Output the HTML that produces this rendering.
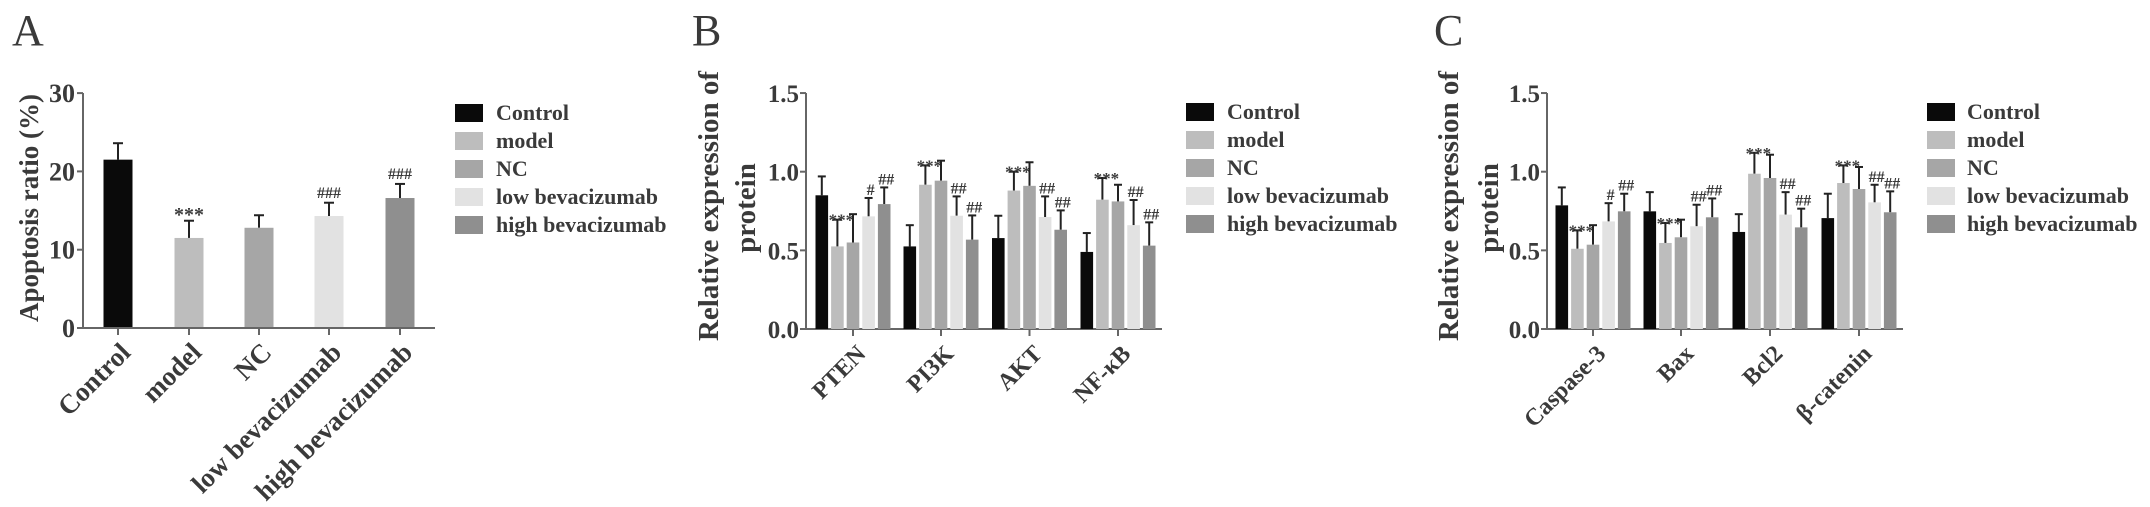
<!DOCTYPE html>
<html><head><meta charset="utf-8"><style>
html,body{margin:0;padding:0;background:#fff;}
svg{display:block;}
text{font-family:"Liberation Serif",serif;fill:#3a3a3a;font-weight:bold;}
</style></head><body>
<svg id="s" width="2150" height="507" viewBox="0 0 2150 507" xmlns="http://www.w3.org/2000/svg"></svg>
<script>
const S=document.getElementById('s');const NS='http://www.w3.org/2000/svg';
function el(t,a,txt){const e=document.createElementNS(NS,t);for(const k in a)e.setAttribute(k,a[k]);if(txt!==undefined)e.textContent=txt;S.appendChild(e);return e;}
const COL=['#0a0a0a','#bdbdbd','#a6a6a6','#e2e2e2','#8f8f8f'];
const LEG=['Control','model','NC','low bevacizumab','high bevacizumab'];
const AX='#666';
function legend(sx,tx,ys){for(let i=0;i<5;i++){el('rect',{x:sx,y:ys[i]-9,width:28,height:18,fill:COL[i]});el('text',{x:tx,y:ys[i]+7,'font-size':22},LEG[i]);}}
// Panel A
(function(){
 const ax=83,y0=328,u=7.83,xe=435;
 const vals=[[21.5,23.6],[11.5,13.7],[12.8,14.4],[14.3,16.0],[16.6,18.4]];
 const cx=[118,189,259,329,400];
 const names=['Control','model','NC','low bevacizumab','high bevacizumab'];
 for(let i=0;i<5;i++){const [v,e]=vals[i];const t=y0-v*u,et=y0-e*u;
  el('line',{x1:cx[i],y1:et,x2:cx[i],y2:t,stroke:'#222','stroke-width':2});
  el('line',{x1:cx[i]-5,y1:et,x2:cx[i]+5,y2:et,stroke:'#222','stroke-width':2});
  el('rect',{x:cx[i]-14.5,y:t,width:29,height:y0-t,fill:COL[i]});
  el('line',{x1:cx[i],y1:y0,x2:cx[i],y2:y0+7,stroke:AX,'stroke-width':2});
  el('text',{x:0,y:0,'font-size':27,'text-anchor':'end',transform:`translate(${cx[i]+14},${y0+26}) rotate(-45)`},names[i]);
 }
 el('text',{x:189,y:221,'font-size':20,'text-anchor':'middle'},'***');
 el('text',{x:329,y:198,'font-size':16,'text-anchor':'middle'},'###');
 el('text',{x:400,y:179,'font-size':16,'text-anchor':'middle'},'###');
 el('line',{x1:ax,y1:93,x2:ax,y2:y0,stroke:AX,'stroke-width':2});
 el('line',{x1:ax,y1:y0,x2:xe,y2:y0,stroke:AX,'stroke-width':2});
 for(let k=0;k<=3;k++){const y=y0-k*10*u;el('line',{x1:ax-6,y1:y,x2:ax,y2:y,stroke:AX,'stroke-width':2});
  el('text',{x:75,y:y+9,'font-size':26,'text-anchor':'end'},String(k*10));}
 el('text',{x:0,y:0,'font-size':27,'text-anchor':'middle',transform:'translate(38,208) rotate(-90)'},'Apoptosis ratio (%)');
 el('text',{x:12,y:45,'font-size':44,style:'font-weight:normal'},'A');
 legend(455,496,[113,141,169,197,225]);
})();
function panel(o){
 const y0=329,u=157.3;
 el('line',{x1:o.ax,y1:93,x2:o.ax,y2:y0,stroke:AX,'stroke-width':2});
 el('line',{x1:o.ax,y1:y0,x2:o.xe,y2:y0,stroke:AX,'stroke-width':2});
 for(let k=0;k<=3;k++){const y=y0-k*0.5*u;el('line',{x1:o.ax-6,y1:y,x2:o.ax,y2:y,stroke:AX,'stroke-width':2});
  el('text',{x:o.ax-7,y:y+9,'font-size':25,'text-anchor':'end'},(k*0.5).toFixed(1));}
 for(let g=0;g<4;g++){const tx=o.ticks[g];
  el('line',{x1:tx,y1:y0,x2:tx,y2:y0+7,stroke:AX,'stroke-width':2});
  el('text',{x:0,y:0,'font-size':24,'text-anchor':'end',transform:`translate(${tx+14},${y0+26}) rotate(-45)`},o.names[g]);
  for(let i=0;i<5;i++){const [v,e]=o.vals[g][i];const cx=tx+(i-2)*15.6;const t=y0-v*u,et=y0-e*u;
   el('line',{x1:cx,y1:et,x2:cx,y2:t,stroke:'#222','stroke-width':2});
   el('line',{x1:cx-4,y1:et,x2:cx+4,y2:et,stroke:'#222','stroke-width':2});
   el('rect',{x:cx-6.3,y:t,width:12.6,height:y0-t,fill:COL[i]});
   const a=o.ann[g][i];
   if(a){const st=a[0]=='*';el('text',{x:cx+(st?4:2),y:st?et+6:et-3,'font-size':st?17:16,'text-anchor':'middle'},a);}
  }}
 el('text',{x:0,y:0,'font-size':29,'text-anchor':'middle',transform:`translate(${o.t1},206) rotate(-90)`},'Relative expression of');
 el('text',{x:0,y:0,'font-size':29,'text-anchor':'middle',transform:`translate(${o.t2},208) rotate(-90)`},'protein');
 el('text',{x:o.lx,y:45,'font-size':44,style:'font-weight:normal'},o.letter);
 legend(o.sx,o.tx,[112,140,168,196,224]);
}
const annStd=[[null,'***',null,'##','##'],[null,'***',null,'##','##'],[null,'***',null,'##','##']];
panel({ax:806,xe:1162,ticks:[853,941,1029.5,1118],names:['PTEN','PI3K','AKT','NF-κB'],
 vals:[[[0.85,0.97],[0.525,0.695],[0.55,0.73],[0.716,0.833],[0.794,0.90]],
  [[0.525,0.66],[0.917,1.04],[0.943,1.07],[0.72,0.843],[0.568,0.722]],
  [[0.578,0.72],[0.88,1.0],[0.91,1.06],[0.712,0.843],[0.631,0.754]],
  [[0.49,0.61],[0.822,0.96],[0.811,0.917],[0.66,0.82],[0.53,0.678]]],
 ann:[[null,'***',null,'#','##'],...annStd],t1:718,t2:755,lx:692,letter:'B',sx:1186,tx:1227});
panel({ax:1547,xe:1903,ticks:[1593,1681,1770,1859],names:['Caspase-3','Bax','Bcl2','β-catenin'],
 vals:[[[0.786,0.90],[0.51,0.627],[0.536,0.66],[0.684,0.80],[0.748,0.86]],
  [[0.748,0.87],[0.547,0.674],[0.583,0.695],[0.653,0.79],[0.71,0.83]],
  [[0.617,0.73],[0.987,1.12],[0.96,1.108],[0.727,0.87],[0.646,0.765]],
  [[0.705,0.86],[0.928,1.04],[0.89,1.03],[0.805,0.917],[0.742,0.875]]],
 ann:[[null,'***',null,'#','##'],...annStd],t1:1458,t2:1498,lx:1434,letter:'C',sx:1927,tx:1967});
</script>
</body></html>
